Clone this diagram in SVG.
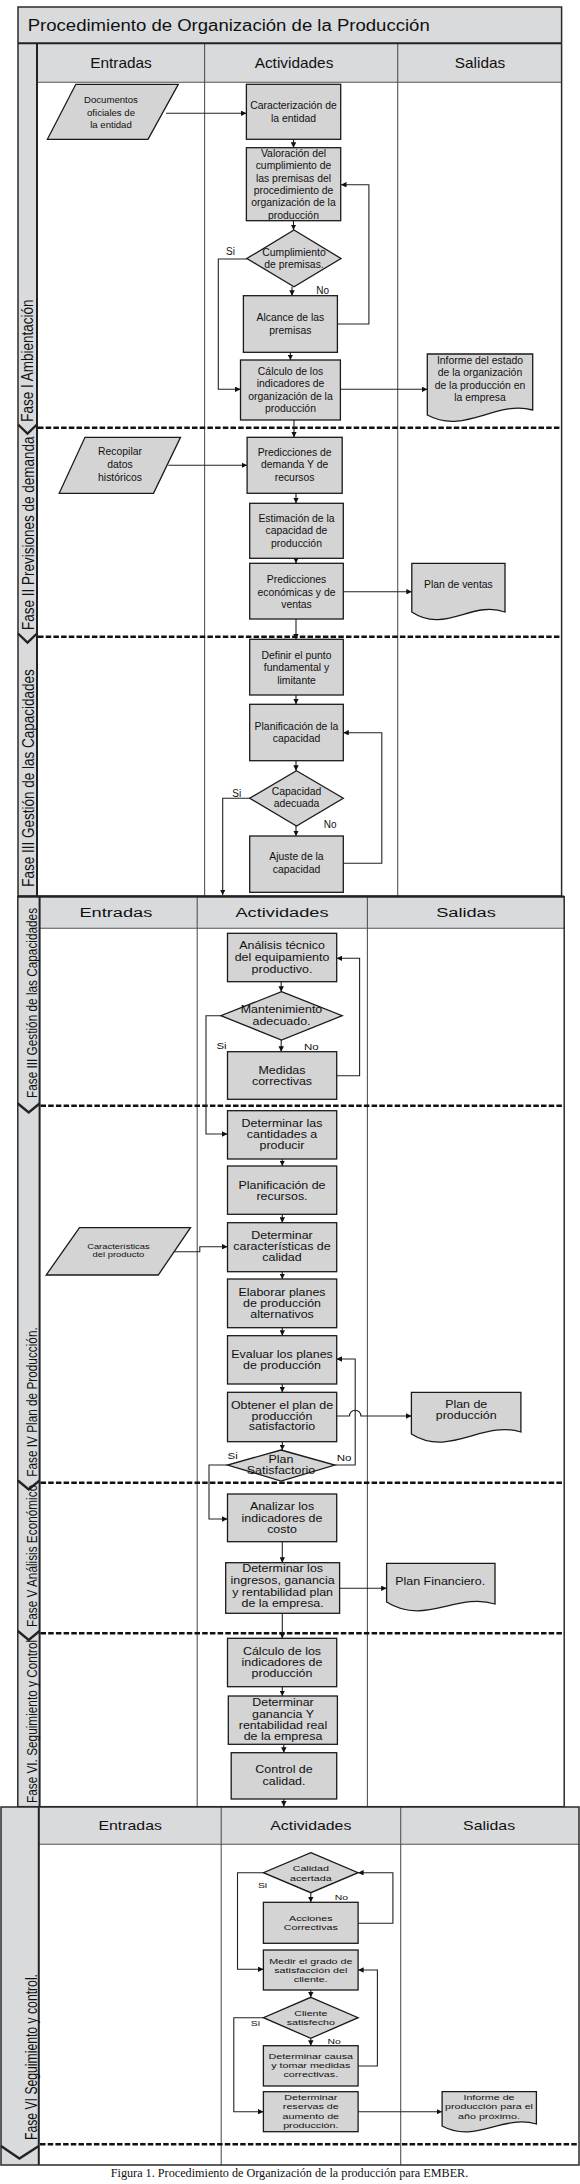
<svg xmlns="http://www.w3.org/2000/svg" width="580" height="2184" viewBox="0 0 580 2184">
<style>
.bg{fill:#ffffff}
.hdr{fill:#d9dadc;stroke:none}
.frame{fill:none;stroke:#2a2a2a;stroke-width:1.5}
.ln{fill:none;stroke:#555;stroke-width:1.1}
.thick{fill:none;stroke:#222;stroke-width:2}
.dash{fill:none;stroke:#111;stroke-width:2.6;stroke-dasharray:5.5 2.2}
.chev{fill:none;stroke:#222;stroke-width:2.4;stroke-linejoin:miter}
.box{fill:#d4d4d4;stroke:#1a1a1a;stroke-width:1.3}
.c{fill:none;stroke:#222;stroke-width:1.1;marker-end:url(#a)}
.cn{fill:none;stroke:#222;stroke-width:1.1}
text{font-family:"Liberation Sans",Arial,sans-serif;fill:#111}
.title{font-size:16px}
.h1{font-size:14px;text-anchor:middle}
.h2{font-size:13.5px;text-anchor:middle}
.h3{font-size:13px;text-anchor:middle}
.t1{font-size:10.4px;text-anchor:middle}
.tp{font-size:9.6px;text-anchor:middle}
.t2{font-size:10.2px;text-anchor:middle}
.tp2{font-size:7.7px;text-anchor:middle}
.t3{font-size:8px;text-anchor:middle}
.l1{font-size:10px}
.l2{font-size:9.6px}
.l3{font-size:8px}
.ph1{font-size:13.5px}
.ph2{font-size:11.8px}
.ph3{font-size:12.2px}
.cap{font-family:"Liberation Serif","Times New Roman",serif;font-size:12.2px;text-anchor:middle}
</style>
<defs>
<marker id="a" viewBox="0 0 10 10" refX="10" refY="5" markerWidth="5.5" markerHeight="5.5" markerUnits="userSpaceOnUse" orient="auto"><path d="M0,0 L10,5 L0,10 z" fill="#111"/></marker>
</defs>
<rect class="bg" x="0" y="0" width="580" height="2184"/>

<!-- ===== Section 1 frame ===== -->
<g id="section1">
<rect x="18" y="7" width="543.6" height="889" fill="#fff"/>
<rect class="hdr" x="18" y="7" width="543.6" height="36.3"/>
<rect class="hdr" x="18" y="43.3" width="19" height="852.7"/>
<rect class="hdr" x="37" y="43.3" width="524.6" height="39"/>
<path class="ln" d="M37,82.3 H561.6 M204.6,43.3 V896 M397.7,43.3 V896"/>
<path class="thick" d="M18,43.3 H561.6 M37,43.3 V896"/>
<rect class="frame" x="18" y="7" width="543.6" height="889"/>
<text class="title" transform="translate(27.7 30.7) scale(1.16 1)">Procedimiento de Organización de la Producción</text>
<text class="h1" transform="translate(121 68.3) scale(1.1 1)">Entradas</text>
<text class="h1" transform="translate(294 68.3) scale(1.1 1)">Actividades</text>
<text class="h1" transform="translate(480 68.3) scale(1.1 1)">Salidas</text>
<path class="dash" d="M38,427.7 H561.6 M38,636.7 H561.6"/>
<polyline class="chev" points="18,424.5 27.5,433.5 37,424.5"/>
<polyline class="chev" points="18,633.5 27.5,642.5 37,633.5"/>
<text class="ph1" transform="translate(33.3 421.7) rotate(-90) scale(1 1.2)">Fase I Ambientación</text>
<text class="ph1" transform="translate(34 630) rotate(-90) scale(1 1.2)">Fase II Previsiones de demanda</text>
<text class="ph1" transform="translate(34 886.7) rotate(-90) scale(1 1.2)">Fase III Gestión de las Capacidades</text>
</g>

<!-- ===== Section 2 frame ===== -->
<g id="section2">
<rect x="17.8" y="896.7" width="546.4" height="910" fill="#fff"/>
<rect class="hdr" x="17.8" y="896.7" width="21.8" height="910"/>
<rect class="hdr" x="39.6" y="896.7" width="524.6" height="31.6"/>
<path class="ln" d="M39.6,928.3 H564.2 M197.2,896.7 V1806.7 M367.4,896.7 V1806.7"/>
<path class="thick" d="M39.6,896.7 V1806.7"/>
<rect class="frame" x="17.8" y="896.7" width="546.4" height="910"/>
<path class="thick" d="M17.8,896.5 H564.2"/>
<text class="h2" transform="translate(115.8 917.3) scale(1.35 1)">Entradas</text>
<text class="h2" transform="translate(282 917.3) scale(1.35 1)">Actividades</text>
<text class="h2" transform="translate(466 917.3) scale(1.35 1)">Salidas</text>
<path class="dash" d="M40.5,1105.7 H564.2 M40.5,1482.7 H564.2 M40.5,1633.3 H564.2"/>
<polyline class="chev" points="17.8,1103.5 28.7,1112.5 39.6,1103.5"/>
<polyline class="chev" points="17.8,1480.5 28.7,1489.5 39.6,1480.5"/>
<polyline class="chev" points="17.8,1631 28.7,1640 39.6,1631"/>
<text class="ph2" transform="translate(36.8 1098) rotate(-90) scale(1 1.3)">Fase III Gestión de las Capacidades</text>
<text class="ph2" transform="translate(36.8 1476.7) rotate(-90) scale(1 1.3)">Fase IV Plan de Producción.</text>
<text class="ph2" transform="translate(36.8 1627) rotate(-90) scale(1 1.3)">Fase V Análisis Económico</text>
<text class="ph2" transform="translate(36.8 1803) rotate(-90) scale(1 1.3)">Fase VI. Seguimiento y Control</text>
</g>

<!-- ===== Section 3 frame ===== -->
<g id="section3">
<rect x="1" y="1807" width="578" height="358" fill="#fff"/>
<rect class="hdr" x="1" y="1807" width="37.8" height="358"/>
<rect class="hdr" x="38.8" y="1807" width="540.2" height="37.3"/>
<path class="ln" d="M38.8,1844.3 H579 M221.2,1807 V2165 M400.7,1807 V2165"/>
<path class="thick" d="M38.8,1807 V2165"/>
<rect class="frame" x="1" y="1807" width="578" height="358"/>
<text class="h3" transform="translate(130.2 1830) scale(1.22 1)">Entradas</text>
<text class="h3" transform="translate(310.8 1830) scale(1.22 1)">Actividades</text>
<text class="h3" transform="translate(489.1 1830) scale(1.22 1)">Salidas</text>
<path class="dash" d="M40,2144.3 H579"/>
<polyline class="chev" points="1,2146 19.4,2158.5 38.8,2146"/>
<text class="ph3" transform="translate(36.5 2140) rotate(-90) scale(1 1.4)">Fase VI  Seguimiento y control.</text>
</g>

<!-- ===== Connectors ===== -->
<g id="connectors">
<path class="c" d="M166,113.3 H246.4"/>
<path class="c" d="M293.5,139.3 V147.7"/>
<path class="c" d="M293.5,220.7 V230"/>
<path class="c" d="M246.8,259 H218.3 V389.3 H240.5"/>
<path class="c" d="M292,286.7 V295.7"/>
<path class="c" d="M337.4,324 H368.9 V184.7 H341"/>
<path class="c" d="M290.4,352.3 V360"/>
<path class="c" d="M340.4,389.3 H427.3"/>
<path class="c" d="M294,420 V437.3"/>
<path class="c" d="M168.3,465.3 H247.1"/>
<path class="c" d="M296,493.3 V503.3"/>
<path class="c" d="M296,558.3 V563.3"/>
<path class="c" d="M343.3,591.7 H411.8"/>
<path class="c" d="M296,619 V639.3"/>
<path class="c" d="M296,695 V704.3"/>
<path class="c" d="M296,760.7 V770.7"/>
<path class="c" d="M296,826 V836"/>
<path class="c" d="M343.3,863.3 H381.8 V732.7 H343.3"/>
<path class="c" d="M249.7,798.3 H222.7 V895"/>

<path class="c" d="M281.2,981.7 V991.7"/>
<path class="c" d="M281.2,1040 V1051.7"/>
<path class="c" d="M336.7,1075.7 H359.6 V958.3 H336.7"/>
<path class="c" d="M220.9,1015.7 H206 V1134 H227.5"/>
<path class="c" d="M282.3,1159 V1166"/>
<path class="c" d="M282.3,1214.3 V1222.7"/>
<path class="c" d="M173.9,1251.7 H199.8 V1246.7 H227.5"/>
<path class="c" d="M282.3,1271.7 V1279"/>
<path class="c" d="M282.3,1327.7 V1335.7"/>
<path class="c" d="M282.3,1384 V1392.3"/>
<path class="c" d="M336.7,1416 H349.5 A5.7,5.7 0 0 1 360.9,1416 H411.4"/>
<path class="c" d="M282.3,1441.7 V1450"/>
<path class="c" d="M334.8,1465 H355.2 V1359 H336.7"/>
<path class="c" d="M227.5,1465 H209 V1519 H227.5"/>
<path class="c" d="M282.3,1541.7 V1562.7"/>
<path class="c" d="M339.6,1588.3 H386.6"/>
<path class="c" d="M282.3,1613.3 V1638.3"/>
<path class="c" d="M282.3,1686.7 V1696"/>
<path class="c" d="M283.8,1744.3 V1752.7"/>
<path class="c" d="M283.8,1799 V1806.5"/>

<path class="c" d="M310.8,1892.7 V1902.3"/>
<path class="c" d="M358.1,1923.3 H392.9 V1872.7 H358.1"/>
<path class="c" d="M263.4,1872.7 H237.5 V1969.3 H263.4"/>
<path class="c" d="M310.8,1990 V1997.3"/>
<path class="c" d="M310.8,2038.3 V2045.7"/>
<path class="c" d="M358.1,2066 H377.4 V1970 H358.1"/>
<path class="c" d="M263.4,2017.7 H233.8 V2111.7 H263.4"/>
<path class="c" d="M358.1,2111.7 H442.1"/>

<text class="l1" x="226" y="254.6">Si</text>
<text class="l1" x="316.3" y="293.6">No</text>
<text class="l1" x="232.3" y="797">Si</text>
<text class="l1" x="323.7" y="828">No</text>
<text class="l2" transform="translate(216.4 1048.5) scale(1.2 1)">Si</text>
<text class="l2" transform="translate(304 1049.5) scale(1.2 1)">No</text>
<text class="l2" transform="translate(227.5 1458.5) scale(1.2 1)">Si</text>
<text class="l2" transform="translate(336.7 1460.8) scale(1.2 1)">No</text>
<text class="l3" transform="translate(257.9 1888) scale(1.3 1)">Si</text>
<text class="l3" transform="translate(334.8 1899.5) scale(1.3 1)">No</text>
<text class="l3" transform="translate(250.8 2026) scale(1.3 1)">Si</text>
<text class="l3" transform="translate(327.4 2044) scale(1.3 1)">No</text>
</g>

<!-- ===== Nodes: section 1 ===== -->
<g id="n_documentos">
<polygon class="box" points="75.8,84.3 178.3,84.3 148,139.3 47.4,139.3"/>
<text class="tp" x="111" y="103.2">Documentos<tspan x="111" dy="12.7">oficiales de</tspan><tspan x="111" dy="12.3">la  entidad</tspan></text>
</g>
<g id="n_caracterizacion">
<rect class="box" x="246.4" y="84.3" width="94.3" height="55"/>
<text class="t1" x="293.5" y="109.4">Caracterización de<tspan x="293.5" dy="12.3">la entidad</tspan></text>
</g>
<g id="n_valoracion">
<rect class="box" x="246.4" y="147.7" width="94.3" height="73"/>
<text class="t1" x="293.5" y="157">Valoración del<tspan x="293.5" dy="12.3">cumplimiento de</tspan><tspan x="293.5" dy="12.3">las premisas del</tspan><tspan x="293.5" dy="12.3">procedimiento de</tspan><tspan x="293.5" dy="12.3">organización de la</tspan><tspan x="293.5" dy="12.3">producción</tspan></text>
</g>
<g id="n_cumplimiento">
<polygon class="box" points="294,230 341,258.5 294,286.7 246.8,258.5"/>
<text class="t1" x="294" y="255.5">Cumplimiento<tspan x="294" dy="12.5">de premisas.</tspan></text>
</g>
<g id="n_alcance">
<rect class="box" x="243.4" y="295.7" width="94" height="56.6"/>
<text class="t1" x="290.4" y="321">Alcance de las<tspan x="290.4" dy="12.7">premisas</tspan></text>
</g>
<g id="n_calculo1">
<rect class="box" x="240.5" y="360" width="99.9" height="60"/>
<text class="t1" x="290.5" y="374.8">Cálculo de los<tspan x="290.5" dy="12.5">indicadores de</tspan><tspan x="290.5" dy="12.5">organización de la</tspan><tspan x="290.5" dy="12.5">producción</tspan></text>
</g>
<g id="n_informe1">
<path class="box" d="M427.3,354 H532.7 V410 C495.8,400 464.2,435 427.3,415 Z"/>
<text class="t1" x="480" y="363.6">Informe  del estado<tspan x="480" dy="12.6">de la organización</tspan><tspan x="480" dy="12.6">de la producción en</tspan><tspan x="480" dy="12.6">la empresa</tspan></text>
</g>
<g id="n_recopilar">
<polygon class="box" points="85,437.3 180.5,437.3 153.5,493.3 59.2,493.3"/>
<text class="t1" x="120" y="455.3">Recopilar<tspan x="120" dy="12.6">datos</tspan><tspan x="120" dy="12.6">históricos</tspan></text>
</g>
<g id="n_predicciones_demanda">
<rect class="box" x="247.1" y="437.3" width="95.1" height="56"/>
<text class="t1" x="294.6" y="455.5">Predicciones de<tspan x="294.6" dy="12.5">demanda Y de</tspan><tspan x="294.6" dy="12.5">recursos</tspan></text>
</g>
<g id="n_estimacion">
<rect class="box" x="249.7" y="503.3" width="93.6" height="55"/>
<text class="t1" x="296.5" y="521.5">Estimación de la<tspan x="296.5" dy="12.5">capacidad de</tspan><tspan x="296.5" dy="12.5">producción</tspan></text>
</g>
<g id="n_predicciones_economicas">
<rect class="box" x="249.7" y="563.3" width="93.6" height="55.7"/>
<text class="t1" x="296.5" y="583">Predicciones<tspan x="296.5" dy="12.5">económicas y de</tspan><tspan x="296.5" dy="12.5">ventas</tspan></text>
</g>
<g id="n_plan_ventas">
<path class="box" d="M411.8,563.3 H505 V612 C472.4,600 444.4,634 411.8,612 Z"/>
<text class="t1" x="458.4" y="588">Plan de ventas</text>
</g>
<g id="n_definir">
<rect class="box" x="249.7" y="639.3" width="93.6" height="55.7"/>
<text class="t1" x="296.5" y="658.6">Definir el punto<tspan x="296.5" dy="12.6">fundamental y</tspan><tspan x="296.5" dy="12.6">limitante</tspan></text>
</g>
<g id="n_planificacion_capacidad">
<rect class="box" x="249.7" y="704.3" width="93.6" height="56.4"/>
<text class="t1" x="296.5" y="729.6">Planificación de la<tspan x="296.5" dy="12.4">capacidad</tspan></text>
</g>
<g id="n_capacidad_adecuada">
<polygon class="box" points="296.5,770.7 343.3,798.3 296.5,826 249.7,798.3"/>
<text class="t1" x="296.5" y="794.6">Capacidad<tspan x="296.5" dy="12.4">adecuada</tspan></text>
</g>
<g id="n_ajuste">
<rect class="box" x="249.7" y="836" width="93.6" height="56.3"/>
<text class="t1" x="296.5" y="860.3">Ajuste  de la<tspan x="296.5" dy="12.7">capacidad</tspan></text>
</g>

<!-- ===== Nodes: section 2 ===== -->
<g id="n_analisis">
<rect class="box" x="227.5" y="933.3" width="109.2" height="48.4"/>
<text class="t2" transform="translate(282 949.3) scale(1.22 1)"><tspan x="0">Análisis técnico</tspan><tspan x="0" dy="12.2">del equipamiento</tspan><tspan x="0" dy="12">productivo.</tspan></text>
</g>
<g id="n_mantenimiento">
<polygon class="box" points="281.5,991.7 342.2,1015.7 281.5,1040 220.9,1015.7"/>
<text class="t2" transform="translate(281.5 1012.6) scale(1.22 1)"><tspan x="0">Mantenimiento</tspan><tspan x="0" dy="12.7">adecuado.</tspan></text>
</g>
<g id="n_medidas">
<rect class="box" x="227.5" y="1051.7" width="109.2" height="47.6"/>
<text class="t2" transform="translate(282 1073.6) scale(1.22 1)"><tspan x="0">Medidas</tspan><tspan x="0" dy="11.7">correctivas</tspan></text>
</g>
<g id="n_determinar_cantidades">
<rect class="box" x="227.5" y="1110.7" width="109.2" height="48.3"/>
<text class="t2" transform="translate(282 1127) scale(1.22 1)"><tspan x="0">Determinar las</tspan><tspan x="0" dy="11.3">cantidades a</tspan><tspan x="0" dy="11.1">producir</tspan></text>
</g>
<g id="n_planificacion_recursos">
<rect class="box" x="227.5" y="1166" width="109.2" height="48.3"/>
<text class="t2" transform="translate(282 1188.6) scale(1.22 1)"><tspan x="0">Planificación de</tspan><tspan x="0" dy="11">recursos.</tspan></text>
</g>
<g id="n_caracteristicas_producto">
<polygon class="box" points="79.5,1227.7 190.5,1227.7 158.3,1275 46.2,1275"/>
<text class="tp2" transform="translate(118.4 1249.4) scale(1.22 1)"><tspan x="0">Características</tspan><tspan x="0" dy="7.8">del producto</tspan></text>
</g>
<g id="n_determinar_calidad">
<rect class="box" x="227.5" y="1222.7" width="109.2" height="49"/>
<text class="t2" transform="translate(282 1238.6) scale(1.22 1)"><tspan x="0">Determinar</tspan><tspan x="0" dy="11">características de</tspan><tspan x="0" dy="11.7">calidad</tspan></text>
</g>
<g id="n_elaborar">
<rect class="box" x="227.5" y="1279" width="109.2" height="48.7"/>
<text class="t2" transform="translate(282 1296) scale(1.22 1)"><tspan x="0">Elaborar planes</tspan><tspan x="0" dy="11">de producción</tspan><tspan x="0" dy="11">alternativos</tspan></text>
</g>
<g id="n_evaluar">
<rect class="box" x="227.5" y="1335.7" width="109.2" height="48.3"/>
<text class="t2" transform="translate(282 1357.6) scale(1.22 1)"><tspan x="0">Evaluar los planes</tspan><tspan x="0" dy="11">de producción</tspan></text>
</g>
<g id="n_obtener">
<rect class="box" x="227.5" y="1392.3" width="109.2" height="49.4"/>
<text class="t2" transform="translate(282 1409.3) scale(1.22 1)"><tspan x="0">Obtener el plan de</tspan><tspan x="0" dy="10.5">producción</tspan><tspan x="0" dy="10.7">satisfactorio</tspan></text>
</g>
<g id="n_plan_produccion">
<path class="box" d="M411.4,1392.3 H520.9 V1432 C482.6,1420 449.7,1458 411.4,1434 Z"/>
<text class="t2" transform="translate(466.2 1408) scale(1.22 1)"><tspan x="0">Plan de</tspan><tspan x="0" dy="11.3">producción</tspan></text>
</g>
<g id="n_plan_satisfactorio">
<polygon class="box" points="281,1450 334.8,1465 281,1481 227.5,1465"/>
<text class="t2" transform="translate(281 1463) scale(1.22 1)"><tspan x="0">Plan</tspan><tspan x="0" dy="11.3">Satisfactorio</tspan></text>
</g>
<g id="n_analizar">
<rect class="box" x="227.5" y="1494" width="109.2" height="47.7"/>
<text class="t2" transform="translate(282 1510.3) scale(1.22 1)"><tspan x="0">Analizar los</tspan><tspan x="0" dy="11.7">indicadores de</tspan><tspan x="0" dy="11">costo</tspan></text>
</g>
<g id="n_determinar_ingresos">
<rect class="box" x="225.7" y="1562.7" width="113.9" height="50.6"/>
<text class="t2" transform="translate(282.6 1572) scale(1.22 1)"><tspan x="0">Determinar los</tspan><tspan x="0" dy="12.3">ingresos, ganancia</tspan><tspan x="0" dy="11.7">y rentabilidad plan</tspan><tspan x="0" dy="11">de la empresa.</tspan></text>
</g>
<g id="n_plan_financiero">
<path class="box" d="M386.6,1563.3 H495 V1604 C457.1,1592 424.5,1626 386.6,1602 Z"/>
<text class="t2" transform="translate(440.2 1584.6) scale(1.22 1)">Plan Financiero.</text>
</g>
<g id="n_calculo_indicadores">
<rect class="box" x="227.5" y="1638.3" width="109.2" height="48.4"/>
<text class="t2" transform="translate(282 1654.6) scale(1.22 1)"><tspan x="0">Cálculo de los</tspan><tspan x="0" dy="11.4">indicadores de</tspan><tspan x="0" dy="11">producción</tspan></text>
</g>
<g id="n_determinar_ganancia">
<rect class="box" x="228.3" y="1696" width="109.1" height="48.3"/>
<text class="t2" transform="translate(283 1706.3) scale(1.22 1)"><tspan x="0">Determinar</tspan><tspan x="0" dy="11.3">ganancia Y</tspan><tspan x="0" dy="11">rentabilidad real</tspan><tspan x="0" dy="11">de la empresa</tspan></text>
</g>
<g id="n_control_calidad">
<rect class="box" x="231.2" y="1752.7" width="105.5" height="46.3"/>
<text class="t2" transform="translate(284 1773) scale(1.22 1)"><tspan x="0">Control de</tspan><tspan x="0" dy="11.6">calidad.</tspan></text>
</g>

<!-- ===== Nodes: section 3 ===== -->
<g id="n_calidad_acertada">
<polygon class="box" points="310.8,1852.7 358.1,1872.7 310.8,1892.7 263.4,1872.7"/>
<text class="t3" transform="translate(310.8 1870.5) scale(1.34 1)"><tspan x="0">Calidad</tspan><tspan x="0" dy="10.5">acertada</tspan></text>
</g>
<g id="n_acciones">
<rect class="box" x="263.4" y="1902.3" width="94.7" height="41"/>
<text class="t3" transform="translate(310.8 1920.5) scale(1.34 1)"><tspan x="0">Acciones</tspan><tspan x="0" dy="9.3">Correctivas</tspan></text>
</g>
<g id="n_medir">
<rect class="box" x="263.4" y="1950" width="94.7" height="40"/>
<text class="t3" transform="translate(310.8 1963.5) scale(1.34 1)"><tspan x="0">Medir el grado de</tspan><tspan x="0" dy="9.3">satisfacción del</tspan><tspan x="0" dy="9.2">cliente.</tspan></text>
</g>
<g id="n_cliente">
<polygon class="box" points="310.8,1997.3 358.1,2017.7 310.8,2038.3 263.4,2017.7"/>
<text class="t3" transform="translate(310.8 2015.8) scale(1.34 1)"><tspan x="0">Cliente</tspan><tspan x="0" dy="9">satisfecho</tspan></text>
</g>
<g id="n_determinar_causa">
<rect class="box" x="263.4" y="2045.7" width="94.7" height="40.3"/>
<text class="t3" transform="translate(310.8 2058.8) scale(1.34 1)"><tspan x="0">Determinar causa</tspan><tspan x="0" dy="9.2">y tomar medidas</tspan><tspan x="0" dy="9">correctivas.</tspan></text>
</g>
<g id="n_determinar_reservas">
<rect class="box" x="263.4" y="2091.7" width="94.7" height="40"/>
<text class="t3" transform="translate(310.8 2100) scale(1.34 1)"><tspan x="0">Determinar</tspan><tspan x="0" dy="9.3">reservas de</tspan><tspan x="0" dy="9.3">aumento de</tspan><tspan x="0" dy="9.2">producción.</tspan></text>
</g>
<g id="n_informe_final">
<path class="box" d="M442.1,2091.7 H536.4 V2124 C503.4,2114 475.1,2144 442.1,2126 Z"/>
<text class="t3" transform="translate(489 2099.5) scale(1.34 1)"><tspan x="0">Informe de</tspan><tspan x="0" dy="9.7">producción para el</tspan><tspan x="0" dy="9.4">año próximo.</tspan></text>
</g>

<text class="cap" x="289.5" y="2176.7">Figura 1.  Procedimiento de Organización de la producción para EMBER.</text>
</svg>
